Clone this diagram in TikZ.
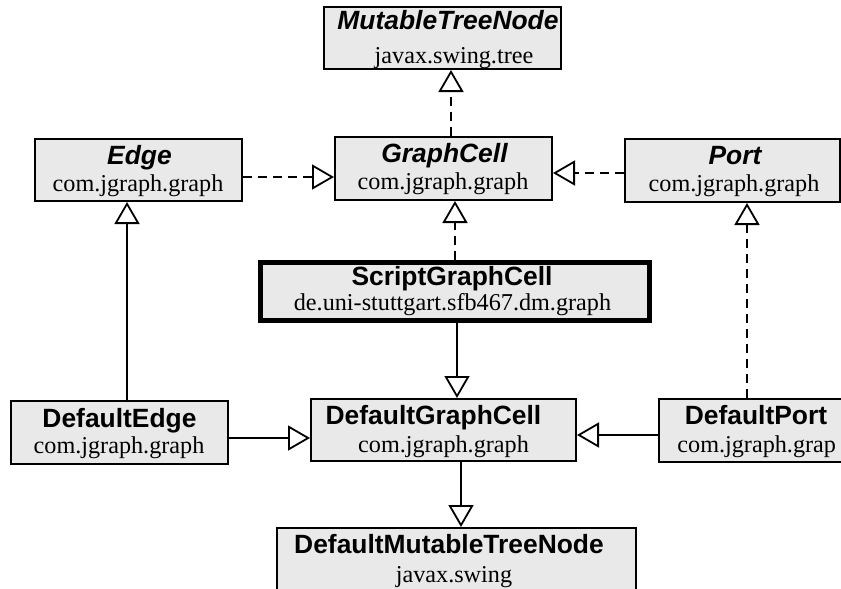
\documentclass[tikz,border=0pt]{standalone}
\usepackage{fontspec}
\setmainfont{Liberation Serif}
\newfontfamily\umlsans{Liberation Sans}
\usetikzlibrary{arrows.meta,calc}

\definecolor{boxfill}{RGB}{233,233,233}

\newcommand\clsfont{\umlsans\bfseries\fontsize{13.2}{15}\selectfont}
\newcommand\ifcfont{\umlsans\bfseries\itshape\fontsize{13.2}{15}\selectfont}
\newcommand\pkgfont{\rmfamily\fontsize{12.1}{14}\selectfont}

\tikzset{
  cls/.style={draw=black, fill=boxfill, line width=1pt, rectangle, inner sep=0pt},
  thickcls/.style={cls, line width=2.5pt},
  cname/.style={anchor=base, inner sep=0pt, font=\clsfont},
  iname/.style={anchor=base, inner sep=0pt, font=\ifcfont},
  pkg/.style={anchor=base, inner sep=0pt, font=\pkgfont},
  gen/.style={line width=0.9pt, -{Triangle[length=11pt, width=12.5pt, fill=white]}},
  realize/.style={gen, dash pattern=on 4.5pt off 3pt},
}

\begin{document}
\begin{tikzpicture}[x=0.5pt, y=-0.5pt]
  \useasboundingbox (0,0) rectangle (841,589);
  \clip (0,0) rectangle (841,589);

  % interfaces
  \node[cls, minimum width=118.5pt, minimum height=31pt] (mtn) at (442.5,38) {};
  \node[iname] (mtn-t) at (448,29) {MutableTreeNode};
  \node[pkg]   (mtn-p) at (454,63) {javax.swing.tree};

  \node[cls, minimum width=103.5pt, minimum height=31pt] (edge) at (138.5,170) {};
  \node[iname] (edge-t) at (139.5,164) {Edge};
  \node[pkg]   (edge-p) at (138,191) {com.jgraph.graph};

  \node[cls, minimum width=108.5pt, minimum height=31.5pt] (gcell) at (443.5,168.5) {};
  \node[iname] (gcell-t) at (444.5,162) {GraphCell};
  \node[pkg]   (gcell-p) at (443,189) {com.jgraph.graph};

  \node[cls, minimum width=107.5pt, minimum height=31.5pt] (port) at (732.5,170.5) {};
  \node[iname] (port-t) at (735,164) {Port};
  \node[pkg]   (port-p) at (734,191) {com.jgraph.graph};

  % classes
  \node[thickcls, minimum width=194.5pt, minimum height=29pt] (script) at (455,291.5) {};
  \node[cname] (script-t) at (452,285) {ScriptGraphCell};
  \node[pkg]   (script-p) at (452.5,310) {de.uni-stuttgart.sfb467.dm.graph};

  \node[cls, minimum width=108.5pt, minimum height=31.5pt] (dedge) at (119.5,432.5) {};
  \node[cname] (dedge-t) at (119.5,427) {DefaultEdge};
  \node[pkg]   (dedge-p) at (119,453) {com.jgraph.graph};

  \node[cls, minimum width=132.5pt, minimum height=31pt] (dgc) at (443.5,430) {};
  \node[cname] (dgc-t) at (433.5,424) {DefaultGraphCell};
  \node[pkg]   (dgc-p) at (443.5,452) {com.jgraph.graph};

  \node[cls, minimum width=100.5pt, minimum height=31.5pt] (dport) at (759.5,430.5) {};
  \node[cname] (dport-t) at (756,424) {DefaultPort};
  \node[pkg, anchor=base west] (dport-p) at (677,452) {com.jgraph.grap};

  \node[cls, minimum width=179.5pt, minimum height=35pt] (dmtn) at (456.5,563) {};
  \node[cname] (dmtn-t) at (449,553) {DefaultMutableTreeNode};
  \node[pkg]   (dmtn-p) at (454,582) {javax.swing};

  % realizations (dashed)
  \draw[realize] ($(gcell.north)+(7.5,0)$) -- ($(mtn.south)+(8.5,0)$);
  \draw[realize] ($(edge.east)+(0,7)$) -- ($(gcell.west)+(0,8.5)$);
  \draw[realize] ($(port.west)+(0,2.5)$) -- ($(gcell.east)+(0,4.5)$);
  \draw[realize] (script.north) -- ($(gcell.south)+(11.5,0)$);
  \draw[realize] ($(dport.north)+(-12.5,0)$) -- ($(port.south)+(14.5,0)$);

  % generalizations (solid)
  \draw[gen] ($(dedge.north)+(7.5,0)$) -- ($(edge.south)+(-11.5,0)$);
  \draw[gen] ($(script.south)+(2,0)$) -- ($(dgc.north)+(13.5,0)$);
  \draw[gen] ($(dedge.east)+(0,5.5)$) -- ($(dgc.west)+(0,8)$);
  \draw[gen] ($(dport.west)+(0,4.5)$) -- ($(dgc.east)+(0,5)$);
  \draw[gen] ($(dgc.south)+(17.5,0)$) -- ($(dmtn.north)+(4.5,0)$);
\end{tikzpicture}
\end{document}
